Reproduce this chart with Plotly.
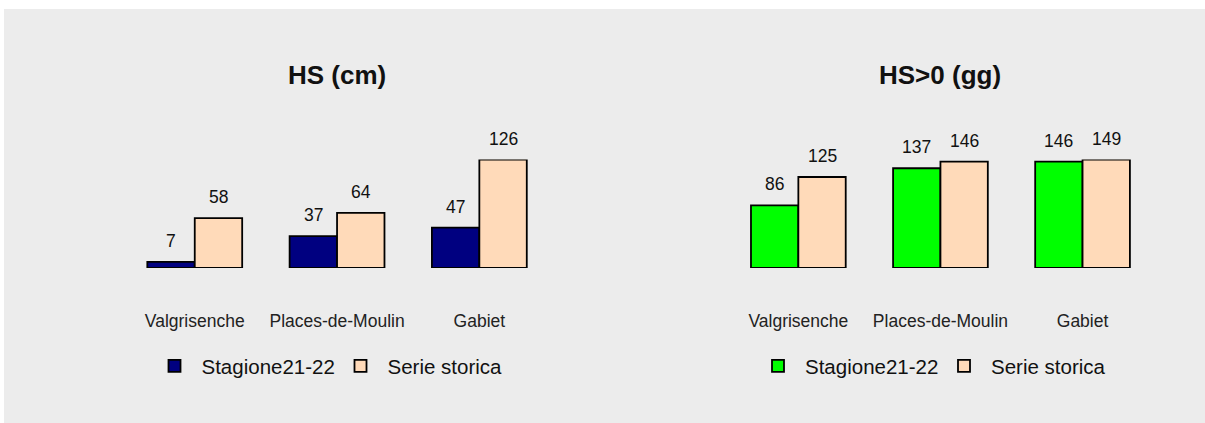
import plotly.graph_objects as go

stations = ["Valgrisenche", "Places-de-Moulin", "Gabiet"]
hs_season = [7, 37, 47]
hs_hist = [58, 64, 126]
days_season = [86, 137, 146]
days_hist = [125, 146, 149]
series_names = ["Stagione21-22", "Serie storica"]
titles = ["HS (cm)", "HS>0 (gg)"]

W, H = 1205, 423
FONT = "Liberation Sans, Arial, sans-serif"
PEACH = "#FFDAB9"
NAVY = "#000080"
GREEN = "#00FF00"
BG = "#ECECEC"

def px_x(p):
    return p / W

def px_y(p):
    return 1 - p / H

fig = go.Figure()

panels = [
    dict(season=hs_season, hist=hs_hist, color=NAVY, xa="x", ya="y", leg="legend",
         dom=[px_x(123.6), px_x(550.5)], title=titles[0]),
    dict(season=days_season, hist=days_hist, color=GREEN, xa="x2", ya="y2", leg="legend2",
         dom=[px_x(727.3), px_x(1153.6)], title=titles[1]),
]

annotations = []
bw = 1 / 3
for p in panels:
    fig.add_trace(go.Bar(
        x=stations, y=p["season"], name=series_names[0],
        marker=dict(color=p["color"], line=dict(color="black", width=1.8)),
        offset=-bw, width=bw, xaxis=p["xa"], yaxis=p["ya"], legend=p["leg"],
        hoverinfo="x+y",
    ))
    fig.add_trace(go.Bar(
        x=stations, y=p["hist"], name=series_names[1],
        marker=dict(color=PEACH, line=dict(color="black", width=1.8)),
        offset=0, width=bw, xaxis=p["xa"], yaxis=p["ya"], legend=p["leg"],
        hoverinfo="x+y",
    ))
    for i, (a, b) in enumerate(zip(p["season"], p["hist"])):
        for xv, yv in ((i - bw / 2, a), (i + bw / 2, b)):
            annotations.append(dict(
                x=xv, y=yv, xref=p["xa"], yref=p["ya"], text=str(yv),
                showarrow=False, yanchor="middle", yshift=21,
                font=dict(family=FONT, size=17.5, color="#111"),
            ))
    annotations.append(dict(
        x=(p["dom"][0] + p["dom"][1]) / 2, y=px_y(75), xref="paper", yref="paper",
        text="<b>%s</b>" % p["title"], showarrow=False, xanchor="center", yanchor="middle",
        font=dict(family=FONT, size=26, color="#111"),
    ))

ydom = [px_y(268), px_y(159.5)]
axis_common = dict(showgrid=False, zeroline=False, showline=False, ticks="",
                   fixedrange=True)
tickfont = dict(family=FONT, size=17.5, color="#222")
legend_common = dict(orientation="h", xanchor="left", yanchor="middle",
                     bgcolor="rgba(0,0,0,0)", itemwidth=44, entrywidth=127,
                     font=dict(family=FONT, size=20.5, color="#111"), itemclick=False)
fig.update_layout(
    width=W, height=H,
    margin=dict(l=0, r=0, t=0, b=0),
    paper_bgcolor="white", plot_bgcolor="rgba(0,0,0,0)",
    barmode="overlay",
    showlegend=True,
    xaxis=dict(domain=panels[0]["dom"], anchor="y", range=[-0.5, 2.5], type="category",
               tickfont=tickfont, ticklabelstandoff=40, **axis_common),
    yaxis=dict(domain=ydom, anchor="x", range=[0, max(hs_hist + hs_season)],
               showticklabels=False, **axis_common),
    xaxis2=dict(domain=panels[1]["dom"], anchor="y2", range=[-0.5, 2.5], type="category",
                tickfont=tickfont, ticklabelstandoff=40, **axis_common),
    yaxis2=dict(domain=ydom, anchor="x2", range=[0, max(days_hist + days_season)],
                showticklabels=False, **axis_common),
    legend=dict(x=px_x(147.5), y=px_y(366), **legend_common),
    legend2=dict(x=px_x(751), y=px_y(366), **legend_common),
    shapes=[dict(type="rect", xref="paper", yref="paper", x0=px_x(4), x1=1.0,
                 y0=0, y1=px_y(9), fillcolor=BG, line=dict(width=0), layer="below")],
    annotations=annotations,
)

fig.write_html("out.html", config={"displayModeBar": False},
               post_script="document.body.style.margin='0';document.body.style.padding='0';")
